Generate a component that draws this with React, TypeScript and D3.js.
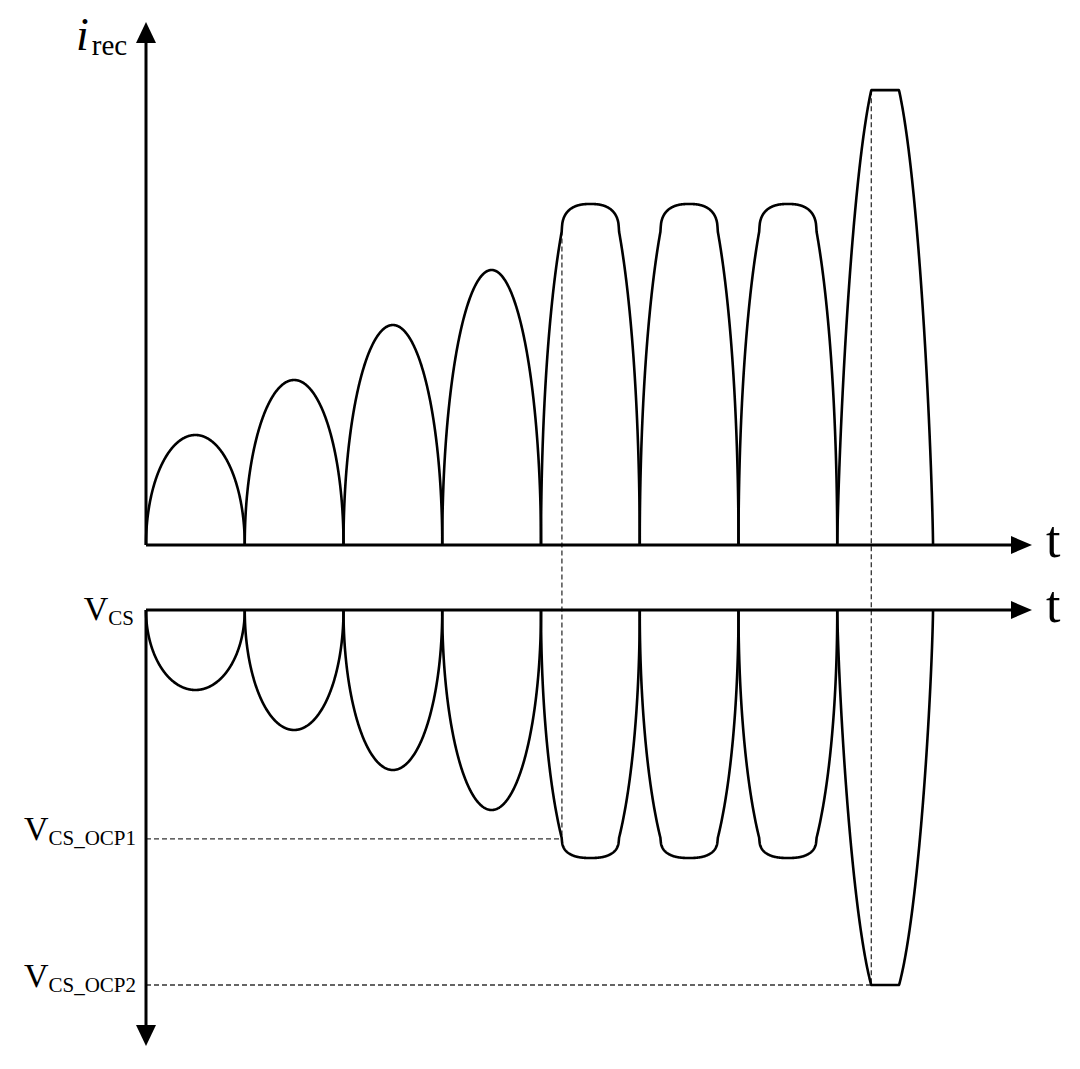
import React from 'react';
import * as d3 from 'd3';

// pulse boundaries (time units) and per-pulse amplitudes
const tEdges = [0, 1, 2, 3, 4, 5, 6, 7, 7.97];
const iAmp = [2, 3, 4, 5, 7.0, 7.0, 7.0, 8.83];
const iLimit = [null, null, null, null, 6.2, 6.2, 6.2, 8.27];
const vAmp = [2, 3, 4, 5, 7.0, 7.0, 7.0, 10.02];
const vLimit = [null, null, null, null, 6.2, 6.2, 6.2, 9.375];
const limitMode = ['', '', '', '', 'round', 'round', 'round', 'flat'];
const arcPow = [0.5, 0.5, 0.5, 0.5, 0.5, 0.5, 0.5, 0.75];
const ocp1 = 5.72;

const W = 1080;
const H = 1069;
const FONT = '"Liberation Serif", "Times New Roman", "DejaVu Serif", serif';

const x = d3.scaleLinear().domain([0, 8]).range([146, 936]);
const yI = d3.scaleLinear().domain([0, 9]).range([545, 50]);
const yV = d3.scaleLinear().domain([0, 10]).range([610, 1010]);

// arc shape: amp * (1 - u^2)^e, e = 0.5 gives a half-ellipse
function arc(amp: number, u: number, e: number) {
  return amp * Math.pow(Math.max(0, 1 - u * u), e);
}
function uAt(level: number, amp: number, e: number) {
  return -Math.sqrt(Math.max(0, 1 - Math.pow(level / amp, 1 / e)));
}

function pulsePoints(k: number, amp: number, limit: number | null, mode: string, trig: number) {
  const t0 = tEdges[k];
  const t1 = tEdges[k + 1];
  const w = t1 - t0;
  const e = arcPow[k];
  const pts: [number, number][] = [];
  const N = 400;
  const uc = Math.abs(uAt(trig, amp, e));
  for (let i = 0; i <= N; i++) {
    const u = -Math.cos((Math.PI * i) / N);
    const t = t0 + ((u + 1) / 2) * w;
    let v = arc(amp, u, e);
    if (mode === 'flat' && limit != null) v = Math.min(v, limit);
    if (mode === 'round' && limit != null && Math.abs(u) < uc) {
      const q = Math.abs(u) / uc;
      const p = 2.5;
      v = trig + (limit - trig) * Math.pow(1 - Math.pow(q, p), 1 / p);
    }
    pts.push([t, v]);
  }
  return pts;
}

function Arrow({ x0, y0, dir }: { x0: number; y0: number; dir: 'up' | 'down' | 'right' }) {
  const L = 21;
  const hw = 10;
  let d = '';
  if (dir === 'up') d = `M${x0},${y0} L${x0 - hw},${y0 + L} L${x0 + hw},${y0 + L} Z`;
  if (dir === 'down') d = `M${x0},${y0} L${x0 - hw},${y0 - L} L${x0 + hw},${y0 - L} Z`;
  if (dir === 'right') d = `M${x0},${y0} L${x0 - L},${y0 - 9} L${x0 - L},${y0 + 9} Z`;
  return <path d={d} fill="#000" />;
}

export default function App() {
  const upperLine = d3.line<[number, number]>().x(d => x(d[0])).y(d => yI(d[1]));
  const lowerLine = d3.line<[number, number]>().x(d => x(d[0])).y(d => yV(d[1]));

  const upper = tEdges.slice(0, -1).map((_, k) => pulsePoints(k, iAmp[k], iLimit[k], limitMode[k], ocp1));
  const lower = tEdges.slice(0, -1).map((_, k) => pulsePoints(k, vAmp[k], vLimit[k], limitMode[k], ocp1));

  // OCP1 trigger time on pulse 5
  const u1 = uAt(ocp1, iAmp[4], arcPow[4]);
  const tOcp1 = tEdges[4] + ((u1 + 1) / 2) * (tEdges[5] - tEdges[4]);
  // OCP2: start of flat top on pulse 8
  const u2 = uAt(iLimit[7] as number, iAmp[7], arcPow[7]);
  const tOcp2 = tEdges[7] + ((u2 + 1) / 2) * (tEdges[8] - tEdges[7]);
  const ocp2 = vLimit[7] as number;

  const x0 = x(0);
  const xEnd = 1032;

  return (
    <div style={{ position: 'absolute', left: 0, top: 0 }}>
      <svg width={W} height={H} style={{ display: 'block', background: '#fff' }} fontFamily={FONT}>
        <rect width={W} height={H} fill="#fff" />

        {/* dashed guides */}
        <g stroke="#333" strokeWidth={1.3} strokeDasharray="5,3" fill="none">
          <line x1={x(tOcp1)} x2={x(tOcp1)} y1={yI(ocp1)} y2={yV(ocp1)} />
          <line x1={x0} x2={x(tOcp1)} y1={yV(ocp1)} y2={yV(ocp1)} />
          <line x1={x(tOcp2)} x2={x(tOcp2)} y1={yI(iLimit[7] as number)} y2={yV(ocp2)} />
          <line x1={x0} x2={x(tOcp2)} y1={yV(ocp2)} y2={yV(ocp2)} />
        </g>

        {/* waveforms */}
        <g fill="none" stroke="#000" strokeWidth={2.6} strokeLinejoin="round">
          {upper.map((p, i) => <path key={'u' + i} d={upperLine(p) || ''} />)}
          {lower.map((p, i) => <path key={'l' + i} d={lowerLine(p) || ''} />)}
        </g>

        {/* axes */}
        <g stroke="#000" strokeWidth={3}>
          <line x1={x0} x2={x0} y1={yI(0)} y2={40} />
          <line x1={x0} x2={xEnd - 18} y1={yI(0)} y2={yI(0)} />
          <line x1={x0} x2={xEnd - 18} y1={yV(0)} y2={yV(0)} />
          <line x1={x0} x2={x0} y1={yV(0)} y2={1030} />
        </g>
        <Arrow x0={x0} y0={22} dir="up" />
        <Arrow x0={x0} y0={1046} dir="down" />
        <Arrow x0={xEnd} y0={yI(0)} dir="right" />
        <Arrow x0={xEnd} y0={yV(0)} dir="right" />

        {/* labels */}
        <text x={76} y={50} fill="#000">
          <tspan fontSize={46} fontStyle="italic">i</tspan>
          <tspan fontSize={29} dx={3} dy={5}>rec</tspan>
        </text>
        <text x={1046} y={yI(0) + 12} fontSize={52} fill="#000">t</text>
        <text x={1046} y={yV(0) + 12} fontSize={52} fill="#000">t</text>

        <text x={134} y={620} textAnchor="end" fill="#000">
          <tspan fontSize={34}>V</tspan>
          <tspan fontSize={21} dy={5}>CS</tspan>
        </text>
        <text x={136} y={yV(ocp1) + 1} textAnchor="end" fill="#000">
          <tspan fontSize={34}>V</tspan>
          <tspan fontSize={21} dy={5}>CS_OCP1</tspan>
        </text>
        <text x={136} y={yV(ocp2) + 2} textAnchor="end" fill="#000">
          <tspan fontSize={34}>V</tspan>
          <tspan fontSize={21} dy={5}>CS_OCP2</tspan>
        </text>
      </svg>
    </div>
  );
}
